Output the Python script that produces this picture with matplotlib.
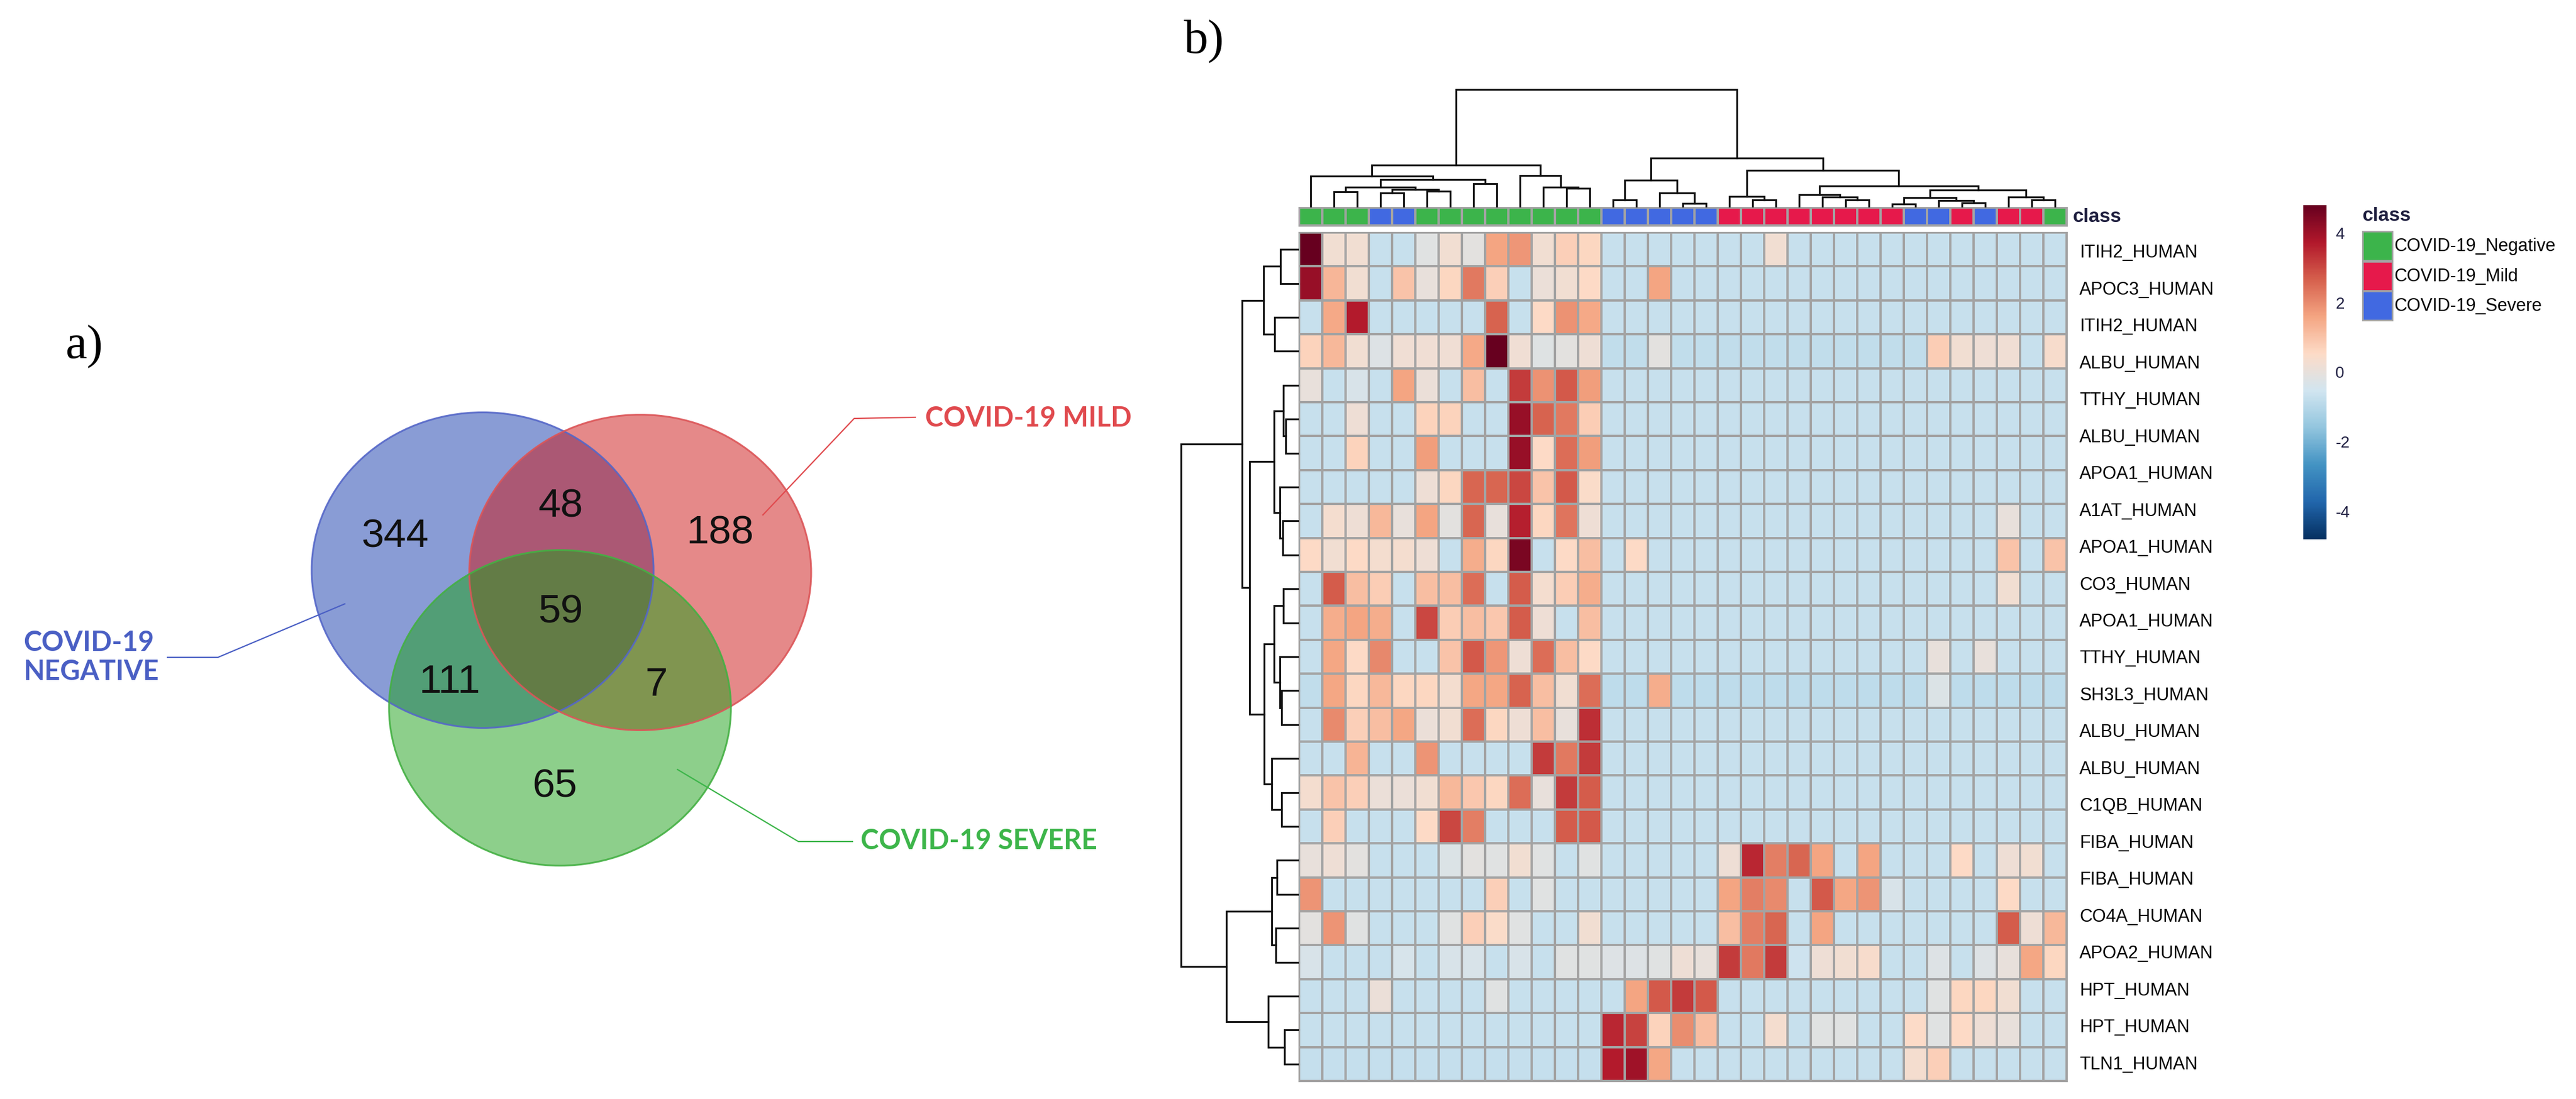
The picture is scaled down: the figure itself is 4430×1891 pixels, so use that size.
import numpy as np
import matplotlib
matplotlib.use("Agg")
import matplotlib.pyplot as plt
from matplotlib.colors import LinearSegmentedColormap, ListedColormap
from matplotlib.patches import Ellipse, Rectangle

plt.rcParams['font.family'] = ['Liberation Sans', 'DejaVu Sans']
plt.rcParams['axes.unicode_minus'] = False

W, H = 4430, 1891   # output size in pixels (dpi 100)

# ---------------- data: Venn diagram ----------------
venn_sets = ["COVID-19\nNEGATIVE", "COVID-19 MILD", "COVID-19 SEVERE"]
venn_regions = ["Negative", "Negative & Mild", "Mild", "All three",
                "Negative & Severe", "Mild & Severe", "Severe"]
venn_counts = [344, 48, 188, 59, 111, 7, 65]

# ---------------- data: heatmap ----------------
class_names = ["COVID-19_Negative", "COVID-19_Mild", "COVID-19_Severe"]
sample_class = [0, 0, 0, 2, 2, 0, 0, 0, 0, 0, 0, 0, 0,
                2, 2, 2, 2, 2, 1, 1, 1, 1, 1, 1, 1, 1,
                2, 2, 1, 2, 1, 1, 0]

row_labels = ["ITIH2_HUMAN", "APOC3_HUMAN", "ITIH2_HUMAN", "ALBU_HUMAN",
              "TTHY_HUMAN", "ALBU_HUMAN", "APOA1_HUMAN", "A1AT_HUMAN",
              "APOA1_HUMAN", "CO3_HUMAN", "APOA1_HUMAN", "TTHY_HUMAN",
              "SH3L3_HUMAN", "ALBU_HUMAN", "ALBU_HUMAN", "C1QB_HUMAN",
              "FIBA_HUMAN", "FIBA_HUMAN", "CO4A_HUMAN", "APOA2_HUMAN",
              "HPT_HUMAN", "HPT_HUMAN", "TLN1_HUMAN"]

b = -0.7
values = [
    [4.8, 0.25, 0.25, b, b, -0.15, 0.25, -0.1, 1.6, 1.8, 0.25, 0.75, 0.6] + [b] * 7 + [0.25] + [b] * 12,
    [4.1, 1.25, 0.25, b, 1.0, 0.0, 0.6, 2.25, 0.75, b, 0.1, 0.25, 0.55, b, b, 1.6] + [b] * 17,
    [b, 1.5, 3.7, b, b, b, b, b, 2.6, b, 0.55, 1.9, 1.5] + [b] * 20,
    [0.7, 1.2, 0.25, -0.25, 0.2, 0.2, 0.2, 1.5, 4.8, 0.2, -0.2, -0.1, 0.15, -0.8, -0.8, -0.1]
    + [-0.8] * 11 + [0.8, 0.25, 0.15, 0.2, b, 0.4],
    [0.0, b, -0.35, b, 1.6, 0.1, b, 1.1, b, 3.2, 1.9, 2.75, 1.7] + [b] * 20,
    [b, b, 0.15, b, b, 0.7, 0.7, b, b, 4.1, 2.6, 2.25, 0.8] + [b] * 20,
    [b, b, 0.7, b, b, 1.7, b, b, b, 4.1, 0.55, 2.45, 1.7] + [b] * 20,
    [b, b, b, b, b, 0.15, 0.6, 2.55, 2.55, 3.0, 1.0, 2.75, 0.45] + [b] * 20,
    [b, 0.3, 0.15, 1.2, 0.0, 1.6, -0.1, 2.55, 0.0, 3.6, 0.6, 2.35, 0.15] + [b] * 17 + [0.0, b, b],
    [0.55, 0.25, 0.55, 0.3, 0.3, 0.15, b, 1.45, 0.6, 4.5, b, 0.55, 1.1, b, 0.55] + [b] * 15 + [1.0, b, 1.0],
    [b, 2.7, 1.1, 0.8, b, 1.1, 1.1, 2.45, b, 2.7, 0.3, 0.8, 1.45] + [b] * 17 + [0.25, b, b],
    [b, 1.45, 1.6, 1.45, b, 3.0, 0.8, 1.1, 0.9, 2.7, 0.15, b, 1.1] + [b] * 20,
    [b, 1.55, 0.55, 2.05, b, b, 1.0, 2.75, 1.8, 0.15, 2.45, 1.1, 0.55] + [b] * 14 + [0.0, b, 0.0, b, b, b],
    [-0.8, 1.55, 0.6, 1.2, 0.6, 0.6, 0.3, 1.55, 1.55, 2.6, 1.1, 0.25, 2.45, -0.85, -0.85, 1.45]
    + [-0.85] * 11 + [-0.3] + [-0.85] * 5,
    [b, 2.0, 0.75, 1.1, 1.55, 0.1, 0.25, 2.45, 0.6, 0.15, 1.1, 0.0, 3.4] + [b] * 20,
    [b, b, 1.3, b, b, 1.85, b, b, b, b, 3.2, 2.25, 3.2] + [b] * 20,
    [0.3, 1.0, 0.75, 0.1, 0.1, 0.25, 1.2, 0.9, 0.6, 2.45, 0.0, 3.2, 2.7] + [b] * 20,
    [b, 0.75, b, b, b, 0.55, 3.0, 2.2, b, b, b, 2.7, 2.75] + [b] * 20,
    [0.0, 0.15, -0.1, b, b, b, -0.3, -0.1, -0.15, 0.25, -0.15, b, -0.15] + [b] * 5
    + [0.15, 3.5, 2.2, 2.55, 1.6, b, 1.6, b, b, b, 0.55, b, 0.15, 0.25, b],
    [1.85] + [b] * 7 + [0.75, b, -0.15] + [b] * 7
    + [1.6, 2.2, 2.0, b, 2.75, 1.55, 1.85, -0.35, b, b, b, b, 0.55, b, b],
    [-0.1, 1.85, -0.15, b, b, b, -0.15, 0.75, 0.45, -0.15, b, b, 0.25] + [b] * 5
    + [1.1, 2.2, 2.55, b, 1.6] + [b] * 7 + [2.7, 0.15, 1.2],
    [-0.35, b, b, b, -0.4, b, -0.35, -0.35, b, -0.35, b, -0.15, -0.15, -0.25, -0.25, -0.15, 0.15, 0.0,
     3.2, 2.25, 3.2, -0.6, 0.15, 0.25, 0.4, b, b, -0.25, b, -0.25, 0.0, 1.55, 0.6],
    [b, b, b, 0.1, b, b, b, b, -0.15] + [b] * 5 + [1.6, 2.75, 3.2, 2.75] + [b] * 9
    + [-0.15, 0.6, 0.6, 0.25, b, b],
    [b] * 13 + [3.5, 3.1, 0.7, 1.95, 1.1, b, b, 0.3, b, -0.15, -0.15, b, b, 0.5, -0.15, 0.55, 0.15, 0.0, b, b],
    [-0.75] * 13 + [3.7, 4.0, 1.55] + [b] * 10 + [0.3, 0.75] + [b] * 5,
]
values = np.array(values)

# dendrogram merges: (left node, right node, height); leaves are in display order
col_merges = [
    (1, 2, 27), (3, 4, 25), (5, 6, 28), (34, 35, 31), (33, 36, 35), (7, 8, 41),
    (37, 38, 48), (0, 39, 54), (11, 12, 33), (10, 41, 35), (9, 42, 55), (40, 43, 73),
    (13, 14, 13), (16, 17, 7), (15, 46, 25), (45, 47, 47), (19, 20, 13), (18, 49, 19),
    (23, 24, 13), (22, 51, 18), (21, 52, 22), (25, 26, 6), (28, 29, 8), (27, 55, 12),
    (54, 56, 17), (31, 32, 13), (30, 58, 18), (57, 59, 30), (53, 60, 37), (50, 61, 64),
    (48, 62, 85), (44, 63, 203),
]
row_merges = [
    (0, 1, 31.7), (2, 3, 41.7), (25, 26, 60.7), (5, 6, 23.3), (4, 28, 26.7), (8, 9, 28.3),
    (7, 30, 33.3), (29, 31, 43.3), (10, 11, 26.7), (13, 14, 30), (12, 34, 33.3), (33, 35, 43.3),
    (16, 17, 30), (15, 37, 46.7), (36, 38, 60), (32, 39, 85), (27, 40, 98.3), (18, 19, 38.3),
    (20, 21, 40), (42, 43, 46.7), (23, 24, 25), (22, 45, 53.3), (44, 46, 125), (41, 47, 202.7),
]

# ---------------- layout / style ----------------
venn_centers = [(830, 981), (1101, 985), (963, 1218)]
venn_w, venn_h = 588, 543
venn_fill = ["#153bad", "#cd1515", "#1da119"]
venn_edge = ["#5567c8", "#dc5558", "#44b043"]
venn_text_col = ["#4a5fc4", "#e04a4e", "#3db54a"]
region_xy = [(679, 923), (964, 872), (1239, 918), (964, 1053), (774, 1174), (1129, 1179), (954, 1353)]
set_label_xy = [(40, 1131), (1591, 720), (1480, 1447)]
leaders = [
    [(593, 1039), (375, 1131), (288, 1131)],
    [(1312, 886), (1469, 720), (1574, 718)],
    [(1165, 1324), (1373, 1448), (1466, 1448)],
]
class_colors = ["#3cb44b", "#e6194b", "#4169e1"]
grid_col = "#a3a3a3"
cmap = LinearSegmentedColormap.from_list(
    "rdbu10", ["#053061", "#2166AC", "#4393C3", "#92C5DE", "#D1E5F0",
               "#FDDBC7", "#F4A582", "#D6604D", "#B2182B", "#67001F"])


def box(x0, y0, x1, y1):
    return [x0 / W, 1 - y1 / H, (x1 - x0) / W, (y1 - y0) / H]


def dendro_segments(n, merges):
    pos = list(np.arange(n) + 0.5)
    hgt = [0.0] * n
    segs = []
    for a, c, h in merges:
        segs.append(([pos[a], pos[a], pos[c], pos[c]], [hgt[a], h, h, hgt[c]]))
        pos.append((pos[a] + pos[c]) / 2)
        hgt.append(h)
    return segs


fig = plt.figure(figsize=(W / 100, H / 100), dpi=100)

# overlay axes in pixel coordinates (venn + free text)
ax_o = fig.add_axes([0, 0, 1, 1])
ax_o.set_xlim(0, W)
ax_o.set_ylim(H, 0)
ax_o.axis("off")

for (cx, cy), fc in zip(venn_centers, venn_fill):
    ax_o.add_patch(Ellipse((cx, cy), venn_w, venn_h, facecolor=fc, alpha=0.5, edgecolor="none"))
for (cx, cy), ec in zip(venn_centers, venn_edge):
    ax_o.add_patch(Ellipse((cx, cy), venn_w, venn_h, fill=False, edgecolor=ec, lw=2.2, alpha=0.9))
for (x, y), n in zip(region_xy, venn_counts):
    ax_o.text(x, y, str(n), fontsize=50, ha="center", va="center", color="#111111")
for (x, y), lab, col, pts in zip(set_label_xy, venn_sets, venn_text_col, leaders):
    ax_o.text(x, y, lab, fontsize=34, family=["Lato", "DejaVu Sans"], weight="bold",
              color=col, ha="left", va="center", linespacing=1.15)
    xs, ys = zip(*pts)
    ax_o.plot(xs, ys, color=col, lw=1.6)

ax_o.text(112, 597, "a)", fontsize=60, family=["Liberation Serif", "DejaVu Serif"], va="center")
ax_o.text(2036, 72, "b)", fontsize=60, family=["Liberation Serif", "DejaVu Serif"], va="center")

# heatmap
n_rows, n_cols = values.shape
ax_hm = fig.add_axes(box(2234, 400, 3554, 1860))
mesh = ax_hm.pcolormesh(values, cmap=cmap, vmin=-4.8, vmax=4.8, edgecolors=grid_col, linewidth=1.7)
ax_hm.set_xlim(0, n_cols)
ax_hm.set_ylim(n_rows, 0)
ax_hm.set_xticks([])
ax_hm.set_yticks([])
for sp in ax_hm.spines.values():
    sp.set_color(grid_col)
    sp.set_linewidth(2.2)

ax_lab = ax_hm.twinx()
ax_lab.set_ylim(len(row_labels), 0)
ax_lab.set_yticks(np.arange(len(row_labels)) + 0.5)
ax_lab.set_yticklabels(row_labels)
ax_lab.tick_params(axis="y", length=0, pad=16, labelsize=22)
for sp in ax_lab.spines.values():
    sp.set_visible(False)

# class bar
ax_cls = fig.add_axes(box(2234, 357, 3554, 388))
ax_cls.pcolormesh(np.array([sample_class]), cmap=ListedColormap(class_colors), vmin=-0.5, vmax=2.5,
                  edgecolors=grid_col, linewidth=1.7)
ax_cls.set_xlim(0, n_cols)
ax_cls.set_xticks([])
ax_cls.set_yticks([])
for sp in ax_cls.spines.values():
    sp.set_color(grid_col)
    sp.set_linewidth(2.2)
ax_o.text(3565, 373, "class", fontsize=24, weight="bold", color="#1f1f3f", va="center")

# column dendrogram
ax_cd = fig.add_axes(box(2234, 147, 3554, 357))
for xs, ys in dendro_segments(n_cols, col_merges):
    ax_cd.plot(xs, ys, color="#111111", lw=2.3, solid_joinstyle="miter")
ax_cd.set_xlim(0, n_cols)
ax_cd.set_ylim(0, 210)
ax_cd.axis("off")

# row dendrogram
ax_rd = fig.add_axes(box(2024, 400, 2234, 1860))
for xs, ys in dendro_segments(n_rows, row_merges):
    ax_rd.plot(ys, xs, color="#111111", lw=2.3, solid_joinstyle="miter")
ax_rd.set_ylim(n_rows, 0)
ax_rd.set_xlim(210, 0)
ax_rd.axis("off")

# colour bar
cax = fig.add_axes(box(3961, 353, 4001, 928))
cb = fig.colorbar(mesh, cax=cax, ticks=[-4, -2, 0, 2, 4])
cb.outline.set_visible(False)
cax.tick_params(length=0, pad=11, labelsize=20, labelcolor="#222244")

# class legend
ax_o.text(4063, 372, "class", fontsize=24, weight="bold", color="#1f1f3f", va="center")
for i, (name, col) in enumerate(zip(class_names, class_colors)):
    y0 = 398 + i * 51.5
    ax_o.add_patch(Rectangle((4063, y0), 51, 50, facecolor=col, edgecolor=grid_col, lw=2))
    ax_o.text(4118, y0 + 26, name, fontsize=22, va="center")

fig.savefig("out.png", dpi=100)
